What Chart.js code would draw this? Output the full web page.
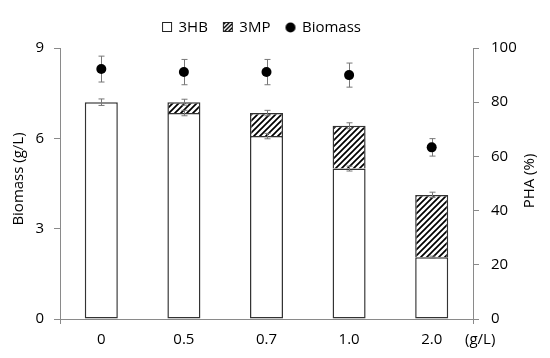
<!DOCTYPE html>
<html>
<head>
<meta charset="utf-8">
<script src="https://cdn.jsdelivr.net/npm/chart.js@4/dist/chart.umd.min.js"></script>
<style>
  html, body { margin: 0; padding: 0; background: #fff; }
  #wrap { width: 550px; height: 358px; }
</style>
</head>
<body>
<div id="wrap"><canvas id="c" width="550" height="358"></canvas></div>
<script>
// ---- data ----
const categories = ['0', '0.5', '0.7', '1.0', '2.0'];
const hb3 = [80, 76, 67.5, 55.5, 22.8];          // PHA % (3HB)
const hb3Err = [1.2, 1.0, 1.0, 0.9, 0.4];
const mp3 = [0, 4, 8.5, 15.8, 23];                // PHA % (3MP)
const totalErr = [0, 1.1, 1.0, 1.1, 1.0];
const biomass = [8.3, 8.2, 8.2, 8.1, 5.7];        // g/L
const biomassErr = [0.43, 0.42, 0.42, 0.40, 0.29];
const leftTicks = [0, 3, 6, 9];
const rightTicks = [0, 20, 40, 60, 80, 100];

const FONT = "'Open Sans', sans-serif";
const TEXT = '#000';
const AXIS = '#8a8a8a';
const BAR_EDGE = '#333';
const ERR = '#777';

// hatch pattern
function makeHatch() {
  const s = 6;
  const pc = document.createElement('canvas');
  pc.width = s; pc.height = s;
  const p = pc.getContext('2d');
  p.fillStyle = '#fff'; p.fillRect(0, 0, s, s);
  p.strokeStyle = '#000'; p.lineWidth = 1.7;
  p.beginPath();
  p.moveTo(0, s); p.lineTo(s, 0);
  p.moveTo(-1, 1); p.lineTo(1, -1);
  p.moveTo(s - 1, s + 1); p.lineTo(s + 1, s - 1);
  p.stroke();
  return p.createPattern(pc, 'repeat');
}
const ctx0 = document.getElementById('c').getContext('2d');
const hatch = makeHatch();

// legend icons (12 wide x 11 high so they land on whole pixels)
function icon(kind) {
  const c = document.createElement('canvas');
  c.width = 12; c.height = 11;
  const g = c.getContext('2d');
  if (kind === 'circle') {
    g.fillStyle = '#000';
    g.beginPath(); g.arc(6, 5.5, 5, 0, Math.PI * 2); g.fill();
  } else {
    if (kind === 'hatch') {
      const pc = document.createElement('canvas'); pc.width = 4; pc.height = 4;
      const p = pc.getContext('2d'); p.fillStyle = '#fff'; p.fillRect(0, 0, 4, 4);
      p.strokeStyle = '#000'; p.lineWidth = 1.4; p.beginPath();
      p.moveTo(0, 4); p.lineTo(4, 0); p.moveTo(-1, 1); p.lineTo(1, -1); p.moveTo(3, 5); p.lineTo(5, 3); p.stroke();
      g.fillStyle = g.createPattern(pc, 'repeat');
    } else {
      g.fillStyle = '#fff';
    }
    g.fillRect(1, 0, 10, 10);
    g.strokeStyle = '#222'; g.lineWidth = 1;
    g.strokeRect(1.5, 0.5, 9, 9);
  }
  return c;
}
const icons = { hb: icon('box'), mp: icon('hatch'), bio: icon('circle') };

// plugin: error bars, custom titles, legend placement
const extras = {
  id: 'extras',
  afterInit(chart) {
    const lg = chart.legend;
    if (lg && !lg._patched) {
      const f = lg.fit;
      lg.fit = function () { f.call(this); this.height += 3; };
      lg._patched = true;
    }
  },
  afterLayout(chart) {
    const lg = chart.legend;
    if (!lg || !lg.lineWidths) return;
    const pad = lg.options.labels.padding;
    const start = (lg.left + pad + lg.right - lg.lineWidths[0]) / 2;
    const shift = Math.round(163 - start);
    lg.left += shift; lg.right += shift;
  },
  beforeDatasetsDraw(chart) {
    const g = chart.ctx;
    const y = chart.scales.y;
    const meta = chart.getDatasetMeta(2);
    g.save();
    g.strokeStyle = ERR; g.lineWidth = 1;
    meta.data.forEach((pt, i) => {
      const x = Math.round(pt.x) + 0.5;
      const y1 = y.getPixelForValue(biomass[i] + biomassErr[i]);
      const y2 = y.getPixelForValue(biomass[i] - biomassErr[i]);
      g.beginPath();
      g.moveTo(x, y1); g.lineTo(x, y2);
      g.moveTo(x - 3, y1); g.lineTo(x + 3, y1);
      g.moveTo(x - 3, y2); g.lineTo(x + 3, y2);
      g.stroke();
    });
    g.restore();
  },
  afterDatasetsDraw(chart) {
    const g = chart.ctx;
    const y1s = chart.scales.y1;
    const meta = chart.getDatasetMeta(0);
    g.save();
    g.strokeStyle = ERR; g.lineWidth = 1;
    function bar(x, v, e) {
      if (!e) return;
      const a = y1s.getPixelForValue(v + e), b = y1s.getPixelForValue(v - e);
      g.beginPath();
      g.moveTo(x, a); g.lineTo(x, b);
      g.moveTo(x - 3, a); g.lineTo(x + 3, a);
      g.moveTo(x - 3, b); g.lineTo(x + 3, b);
      g.stroke();
    }
    meta.data.forEach((el, i) => {
      const x = Math.round(el.x) + 0.5;
      bar(x, hb3[i], hb3Err[i]);
      bar(x, hb3[i] + mp3[i], totalErr[i]);
    });
    // axis titles
    g.fillStyle = TEXT;
    g.font = '15px ' + FONT;
    g.textAlign = 'center';
    g.textBaseline = 'middle';
    g.save();
    g.translate(19, 179);
    g.rotate(-Math.PI / 2);
    g.fillText('Biomass (g/L)', 0, 0);
    g.restore();
    g.save();
    g.translate(530, 181);
    g.rotate(-Math.PI / 2);
    g.fillText('PHA (%)', 0, 0);
    g.restore();
    g.textAlign = 'left';
    g.fillText('(g/L)', 465, 340);
    g.restore();
  }
};

new Chart(ctx0, {
  type: 'bar',
  data: {
    labels: categories,
    datasets: [
      { label: '3HB', data: hb3, yAxisID: 'y1', backgroundColor: '#fff', borderColor: BAR_EDGE,
        borderWidth: 1.5, borderSkipped: false, stack: 'pha' },
      { label: '3MP', data: mp3, yAxisID: 'y1', backgroundColor: hatch, borderColor: BAR_EDGE,
        borderWidth: { top: 1.5, left: 1.5, right: 1.5, bottom: 0 }, borderSkipped: false, stack: 'pha' },
      { label: 'Biomass', type: 'line', data: biomass, yAxisID: 'y', showLine: false,
        pointRadius: 5, pointHoverRadius: 5, pointBackgroundColor: '#000', pointBorderColor: '#000',
        pointBorderWidth: 0, backgroundColor: '#000', borderColor: '#000' }
    ]
  },
  options: {
    responsive: false,
    animation: false,
    events: [],
    categoryPercentage: 1.0,
    barPercentage: 0.4,
    layout: { padding: { top: 4, left: 0, right: 0, bottom: 0 } },
    plugins: {
      tooltip: { enabled: false },
      legend: {
        position: 'top',
        labels: {
          usePointStyle: true,
          pointStyleWidth: 8,
          boxHeight: 11,
          padding: 16,
          color: TEXT,
          font: { family: FONT, size: 15 },
          generateLabels() {
            return [
              { text: '3HB', pointStyle: icons.hb, datasetIndex: 0, fontColor: TEXT, lineWidth: 0 },
              { text: '3MP', pointStyle: icons.mp, datasetIndex: 1, fontColor: TEXT, lineWidth: 0 },
              { text: 'Biomass', pointStyle: icons.bio, datasetIndex: 2, fontColor: TEXT, lineWidth: 0 }
            ];
          }
        }
      }
    },
    scales: {
      x: {
        stacked: true,
        offset: true,
        grid: {
          drawOnChartArea: false, drawTicks: true, tickLength: 5, offset: true,
          color: c => (c.type === 'scale' || c.index === 0) ? AXIS : 'rgba(0,0,0,0)'
        },
        border: { color: AXIS, width: 1 },
        ticks: { color: TEXT, font: { family: FONT, size: 15 }, padding: 7, maxRotation: 0 },
        afterFit(s) { s.height = 39; }
      },
      y: {
        position: 'left',
        min: 0, max: 9,
        afterBuildTicks(s) { s.ticks = leftTicks.map(v => ({ value: v })); },
        grid: { drawOnChartArea: false, drawTicks: true, tickLength: 6, color: AXIS },
        border: { color: AXIS, width: 1 },
        ticks: { color: TEXT, font: { family: FONT, size: 15 }, padding: 10 },
        afterFit(s) { s.width = 60; }
      },
      y1: {
        position: 'right',
        stacked: true,
        min: 0, max: 100,
        afterBuildTicks(s) { s.ticks = rightTicks.map(v => ({ value: v })); },
        grid: { drawOnChartArea: false, drawTicks: true, tickLength: 6, color: AXIS },
        border: { color: AXIS, width: 1 },
        ticks: { color: TEXT, font: { family: FONT, size: 15 }, padding: 12 },
        afterFit(s) { s.width = 77; }
      }
    }
  },
  plugins: [extras]
});
</script>
</body>
</html>
